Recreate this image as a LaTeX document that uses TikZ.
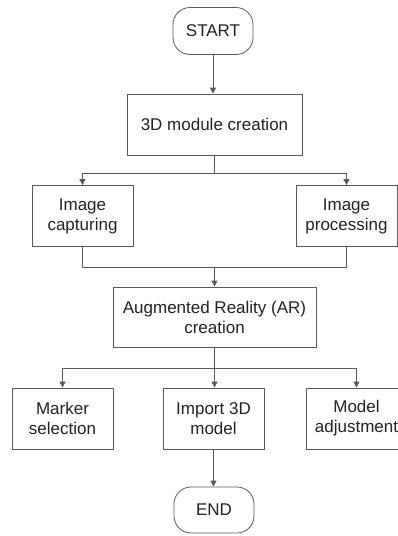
\documentclass[tikz,border=0pt]{standalone}
\usepackage{fontspec}
\setmainfont{Liberation Sans}
\usetikzlibrary{arrows.meta}
\definecolor{ln}{HTML}{5A5A5A}
\definecolor{tx}{HTML}{222222}
\begin{document}
\begin{tikzpicture}[x=1pt,y=-1pt,
  base/.style={draw=ln, line width=0.8pt, text=tx, align=center, inner sep=0pt,
     font=\fontsize{17}{20}\selectfont},
  proc/.style={base, minimum width=101pt, minimum height=61pt},
  term/.style={base, rounded corners=17pt, minimum width=80pt, minimum height=47pt},
  conn/.style={draw=ln, line width=0.8pt},
  arr/.style={conn, -{Triangle[length=6pt,width=6pt]}}]
\useasboundingbox (0,0) rectangle (398,536);
\begin{scope}
\clip (0,0) rectangle (398,536);
\node[term] (start) at (213,31) {START};
\node[proc, minimum width=175pt] (mod) at (214.5,124.5) {3D module creation};
\node[proc] (cap) at (82.5,216) {Image\\capturing};
\node[proc] (pro) at (346.5,216) {Image\\processing};
\node[proc, minimum width=203pt, minimum height=60pt] (ar) at (214.5,317) {Augmented Reality (AR)\\creation};
\node[proc] (mk) at (62.5,418.5) {Marker\\selection};
\node[proc] (imp) at (213.5,418.5) {Import 3D\\model};
\node[proc] (adj) at (356.5,418.5) {Model\\adjustment};
\node[term, minimum height=46pt] (end) at (214,510) {END};

\coordinate (j1) at (214.5,173);
\coordinate (j2) at (214.5,267);
\coordinate (j3) at (214.5,368);

\draw[arr] (start) -- (start |- mod.north);
\draw[conn] (mod.south) -- (j1);
\draw[arr] (j1) -| (cap.north);
\draw[arr] (j1) -| (pro.north);
\draw[conn] (cap.south) |- (j2);
\draw[conn] (pro.south) |- (j2);
\draw[arr] (j2) -- (ar.north);
\draw[conn] (ar.south) -- (j3);
\draw[arr] (j3) -| (mk.north);
\draw[arr] (j3) -- (j3 |- imp.north);
\draw[arr] (j3) -| (adj.north);
\draw[arr] (imp.south) -- (imp.south |- end.north);
\end{scope}
\end{tikzpicture}
\end{document}
